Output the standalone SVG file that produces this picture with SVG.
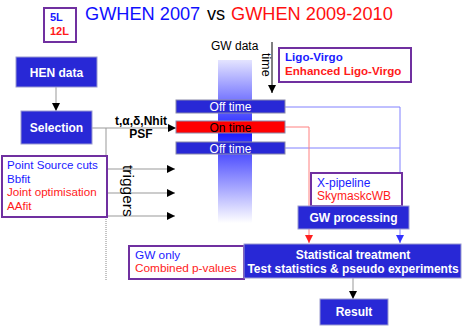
<svg xmlns="http://www.w3.org/2000/svg" width="463" height="326" viewBox="0 0 463 326">
<defs>
<linearGradient id="band" x1="0" y1="0" x2="0" y2="1">
<stop offset="0" stop-color="#e4e4ff"/>
<stop offset="0.45" stop-color="#1c1cff"/>
<stop offset="1" stop-color="#ffffff"/>
</linearGradient>
<marker id="ah" viewBox="0 0 10 10" refX="10" refY="5" markerWidth="8" markerHeight="8" markerUnits="userSpaceOnUse" orient="auto"><path d="M0,0 L10,5 L0,10 z" fill="#000"/></marker>
<marker id="ahb" viewBox="0 0 10 10" refX="10" refY="5" markerWidth="8" markerHeight="8" markerUnits="userSpaceOnUse" orient="auto"><path d="M0,0 L10,5 L0,10 z" fill="#3333ff"/></marker>
<marker id="ahr" viewBox="0 0 10 10" refX="10" refY="5" markerWidth="8" markerHeight="8" markerUnits="userSpaceOnUse" orient="auto"><path d="M0,0 L10,5 L0,10 z" fill="#ff2020"/></marker>
</defs>
<style>
text{font-family:"Liberation Sans",Arial,sans-serif}
.box{fill:#2828d6;stroke:#9a9ad0;stroke-width:1}
.bar{fill:#2828d6;stroke:#8888aa;stroke-width:1}
.red{fill:#ff0000;stroke:#8888aa;stroke-width:1}
.note{fill:#fff;stroke:#7030a0;stroke-width:2}
.lbl{fill:#fff;font-weight:bold;font-size:12px;text-anchor:middle}
.barl{fill:#fff;font-size:12px;text-anchor:middle}
.bark{fill:#000;font-size:12px;text-anchor:middle}
.g{stroke:#999;stroke-width:1;fill:none}
.bl{fill:#1a1aff}
.rd{fill:#ff1a1a}
</style>
<rect x="218" y="60" width="34" height="163" fill="url(#band)"/>
<text x="211" y="50" font-size="12">GW data</text>
<text x="85" y="19.5" font-size="18.2"><tspan fill="#1010ff">GWHEN 2007</tspan><tspan x="207" fill="#000">vs</tspan><tspan x="231" fill="#ff1010">GWHEN 2009-2010</tspan></text>
<g id="connectors">
<line class="g" x1="56" y1="87" x2="56" y2="111" marker-end="url(#ah)"/>
<line class="g" x1="92" y1="128" x2="176" y2="128" marker-end="url(#ah)"/>
<line class="g" x1="106" y1="128" x2="106" y2="156"/>
<line x1="106" y1="217" x2="106" y2="281" stroke="#888" stroke-width="1" stroke-dasharray="1,1"/>
<line class="g" x1="107" y1="169" x2="175" y2="169" marker-end="url(#ah)"/>
<line class="g" x1="107" y1="193" x2="175" y2="193" marker-end="url(#ah)"/>
<line class="g" x1="107" y1="216" x2="175" y2="216" marker-end="url(#ah)"/>
<line x1="272" y1="42" x2="272" y2="93" stroke="#000" stroke-width="1" marker-end="url(#ah)"/>
<polyline points="285,107 400,107 400,243" fill="none" stroke="#8080ff" stroke-width="1" marker-end="url(#ahb)"/>
<line x1="285" y1="148" x2="400" y2="148" stroke="#8080ff" stroke-width="1"/>
<polyline points="285,127 309,127 309,243" fill="none" stroke="#ff8080" stroke-width="1" marker-end="url(#ahr)"/>
<line class="g" x1="353" y1="278" x2="353" y2="299" stroke="#555" marker-end="url(#ah)"/>
</g>
<text transform="translate(262,53) rotate(90)" font-size="12.5">time</text>
<text transform="translate(123,165) rotate(90)" font-size="15.5">triggers</text>
<text x="141" y="125" font-size="12" font-weight="bold" text-anchor="middle">t,α,δ,Nhit</text>
<text x="141" y="138" font-size="12" font-weight="bold" text-anchor="middle">PSF</text>
<g id="layers">
<rect class="note" x="44" y="8" width="32" height="34"/>
<text x="50" y="21" font-size="11" font-weight="bold" class="bl">5L</text>
<text x="50" y="35" font-size="11" font-weight="bold" class="rd">12L</text>
</g>
<g id="ligo">
<rect class="note" x="279" y="48" width="132" height="34"/>
<text x="285" y="61" font-size="11.6" font-weight="bold" class="bl">Ligo-Virgo</text>
<text x="285" y="75" font-size="11.6" font-weight="bold" class="rd">Enhanced Ligo-Virgo</text>
</g>
<g id="hen">
<rect class="box" x="16" y="57" width="81" height="30"/>
<text class="lbl" x="56.5" y="77" font-size="11.5">HEN data</text>
</g>
<g id="selection">
<rect class="box" x="21" y="111" width="71" height="33"/>
<text class="lbl" x="56.5" y="132" font-size="11.5">Selection</text>
</g>
<g id="offtime1">
<rect class="bar" x="176" y="100" width="109" height="13"/>
<text class="barl" x="230.5" y="111">Off time</text>
</g>
<g id="ontime">
<rect class="red" x="176" y="121" width="109" height="12"/>
<text class="bark" x="230.5" y="131.5">On time</text>
</g>
<g id="offtime2">
<rect class="bar" x="176" y="142" width="109" height="12"/>
<text class="barl" x="230.5" y="152.5">Off time</text>
</g>
<g id="cuts">
<rect class="note" x="2" y="156" width="105" height="61"/>
<text x="7" y="169" font-size="11.6" class="bl">Point Source cuts</text>
<text x="7" y="182.5" font-size="11.6" class="bl">Bbfit</text>
<text x="7" y="196" font-size="11.6" class="rd">Joint optimisation</text>
<text x="7" y="209.5" font-size="11.6" class="rd">AAfit</text>
</g>
<g id="pipeline">
<rect class="note" x="311" y="173" width="91" height="33"/>
<text x="317" y="187" font-size="12" class="bl">X-pipeline</text>
<text x="317" y="200" font-size="12" class="rd">SkymaskcWB</text>
</g>
<g id="gwproc">
<rect class="box" x="298" y="206" width="111" height="23"/>
<text class="lbl" x="353.5" y="222">GW processing</text>
</g>
<g id="gwonly">
<rect class="note" x="129" y="246" width="115" height="33"/>
<text x="135" y="258.5" font-size="11.8" class="bl">GW only</text>
<text x="135" y="272" font-size="11.8" class="rd">Combined p-values</text>
</g>
<g id="stat">
<rect class="box" x="244" y="244" width="217" height="34"/>
<text class="lbl" x="353" y="259">Statistical treatment</text>
<text class="lbl" x="353" y="272.5" font-size="11.8">Test statistics &amp; pseudo experiments</text>
</g>
<g id="result">
<rect class="box" x="320" y="299" width="68" height="26"/>
<text class="lbl" x="354" y="316">Result</text>
</g>
</svg>
